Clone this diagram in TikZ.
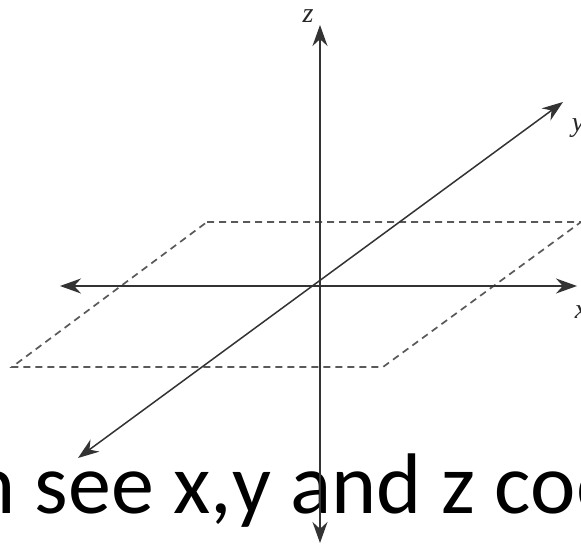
\documentclass[tikz,border=0pt]{standalone}
\usepackage{fontspec}
\newfontfamily\captionfont{Carlito}
\newfontfamily\labelfont{Liberation Serif}
\usetikzlibrary{arrows.meta}

\begin{document}
\begin{tikzpicture}[x=1pt, y=-1pt, >={Stealth[length=21pt,width=15pt]},
  axis/.style={draw=black!80, line width=1.5pt},
  plane/.style={draw=black!65, line width=1.7pt, dash pattern=on 7pt off 5pt},
  lbl/.style={font=\labelfont\fontsize{28}{28}\selectfont\itshape, text=black!85, inner sep=0pt},
  caption/.style={font=\captionfont\fontsize{86}{100}\selectfont, inner sep=0pt, anchor=base west}]
\useasboundingbox (0,0) rectangle (581,548);
\clip (0,0) rectangle (581,548);
% caption text, cut at both sides
\node[caption] (cap) at (-30,513) {n see x,y and z coo};
% dashed plane
\coordinate (pa) at (207,222); \coordinate (pb) at (581,222);
\coordinate (pc) at (383,367); \coordinate (pd) at (12,367);
\draw[plane] (pa) -- (pb) -- (pc) -- (pd) -- cycle;
% axes
\coordinate (o) at (320,286);
\coordinate (zp) at (320,25); \coordinate (zm) at (320,543);
\coordinate (xp) at (577,286); \coordinate (xm) at (60,286);
\coordinate (yp) at (563,102); \coordinate (ym) at (78,458);
\draw[axis, <->] (xm) -- (xp);
\draw[axis, <->] (ym) -- (yp);
\draw[axis, <->] (zm) -- (zp);
\node[lbl] (zl) at (308,16) {z};
\node[lbl] (yl) at (578,128) {y};
\node[lbl] (xl) at (581,312) {x};
\end{tikzpicture}
\end{document}
